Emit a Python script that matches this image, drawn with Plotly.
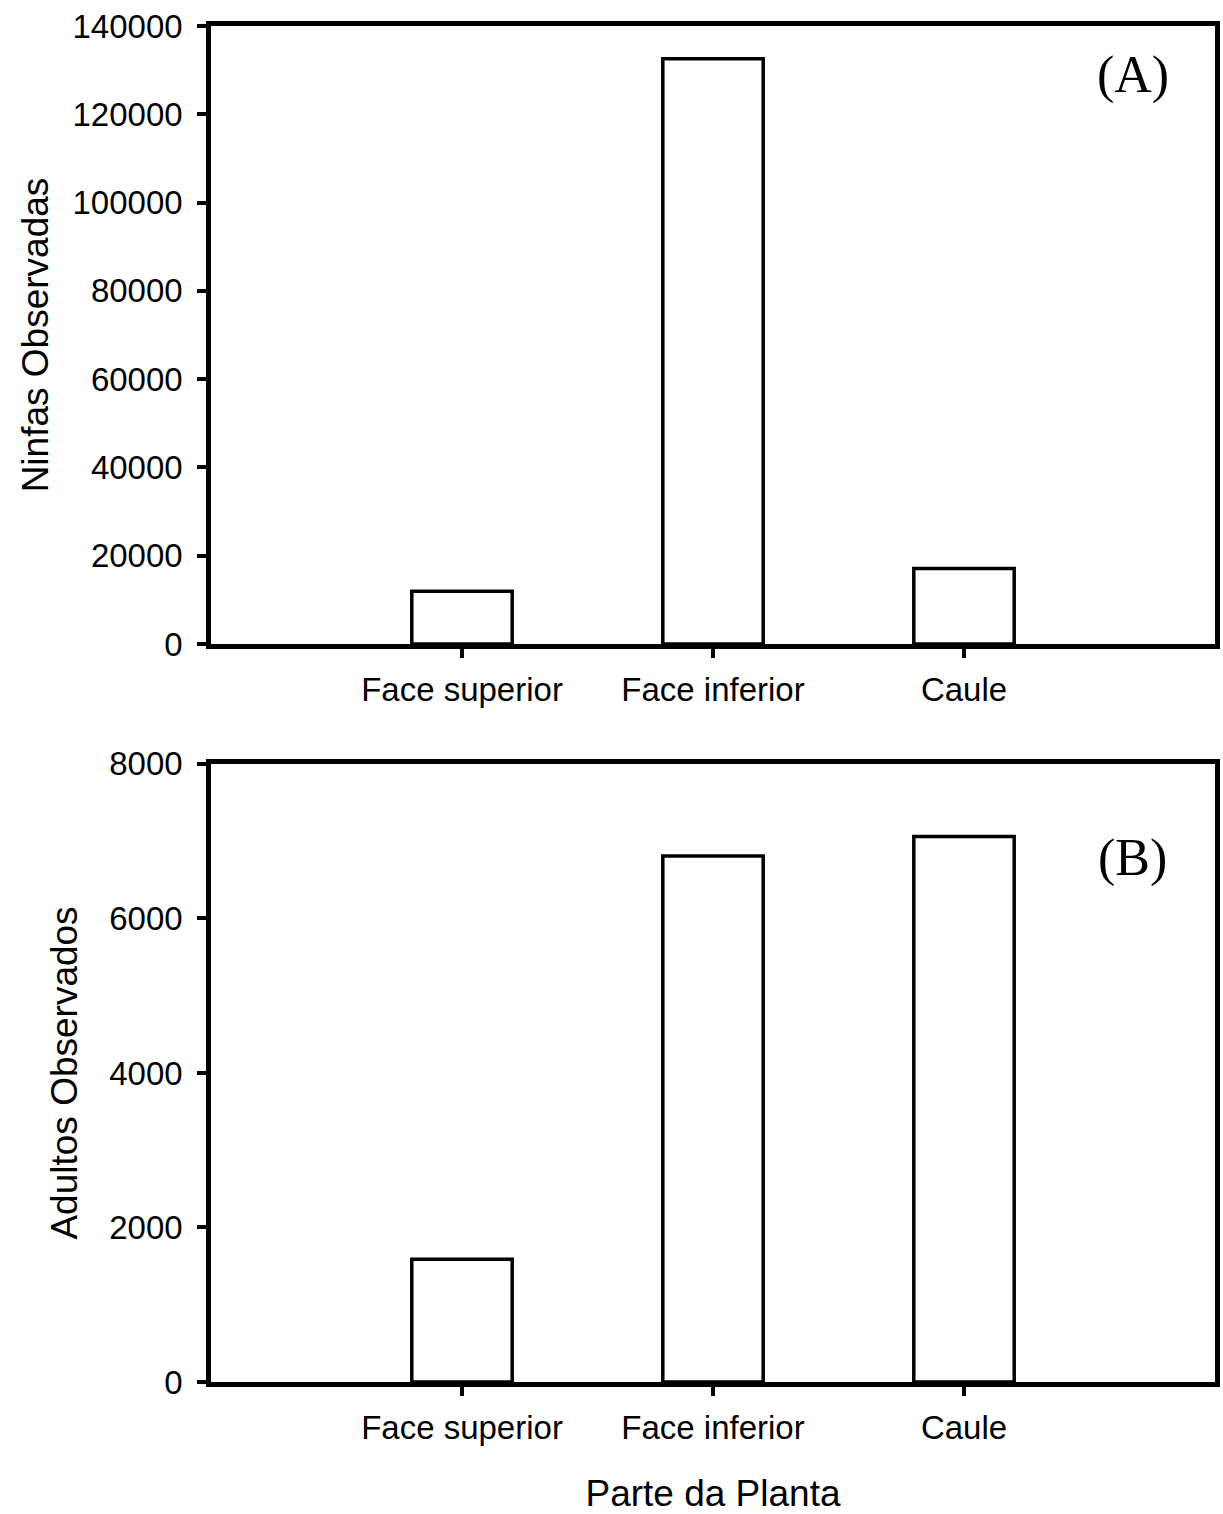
import plotly.graph_objects as go
from plotly.subplots import make_subplots

categories = ["Face superior", "Face inferior", "Caule"]
ninfas = [11950, 132600, 17100]
adultos = [1590, 6810, 7060]
y1_ticks = [0, 20000, 40000, 60000, 80000, 100000, 120000, 140000]
y2_ticks = [0, 2000, 4000, 6000, 8000]

fig = make_subplots(rows=2, cols=1, vertical_spacing=0.085)

bar_style = dict(marker=dict(color="white", line=dict(color="black", width=3.5)), width=0.4, showlegend=False)
fig.add_trace(go.Bar(x=[0, 1, 2], y=ninfas, **bar_style), row=1, col=1)
fig.add_trace(go.Bar(x=[0, 1, 2], y=adultos, **bar_style), row=2, col=1)

fam = "Liberation Sans, Arial, sans-serif"
font = dict(family=fam, size=33, color="black")
title_font = dict(family=fam, size=37, color="black")
axis_common = dict(showline=True, linecolor="black", linewidth=4.5, mirror=True,
                   ticks="outside", tickwidth=3.5, ticklen=9, tickcolor="black",
                   showgrid=False, zeroline=False, tickfont=font, automargin=False)

for r in (1, 2):
    fig.update_xaxes(range=[-1, 3], tickmode="array", tickvals=[0, 1, 2], ticktext=categories,
                     ticklabelstandoff=4, row=r, col=1, **axis_common)

fig.update_yaxes(range=[0, 140000], tickmode="array", tickvals=y1_ticks,
                 ticktext=[str(v) for v in y1_ticks], ticklabelstandoff=8,
                 title=dict(text="Ninfas Observadas", font=title_font, standoff=14),
                 row=1, col=1, **axis_common)
fig.update_yaxes(range=[0, 8000], tickmode="array", tickvals=y2_ticks,
                 ticktext=[str(v) for v in y2_ticks], ticklabelstandoff=8,
                 title=dict(text="Adultos Observados", font=title_font, standoff=22),
                 row=2, col=1, **axis_common)
fig.update_xaxes(title=dict(text="Parte da Planta", font=title_font, standoff=36), row=2, col=1)

fig.update_layout(
    width=1223, height=1514,
    margin=dict(l=211, r=8, t=26, b=132, autoexpand=False),
    plot_bgcolor="white", paper_bgcolor="white",
    font=font,
    yaxis=dict(domain=[0.5442, 1.0]),
    yaxis2=dict(domain=[0.0, 0.4558]),
    annotations=[
        dict(text="(A)", x=0.9183, y=0.9639, xref="paper", yref="paper", showarrow=False,
             xanchor="center", yanchor="middle",
             font=dict(family="Liberation Serif, Times New Roman, serif", size=52, color="black")),
        dict(text="(B)", x=0.9183, y=0.3864, xref="paper", yref="paper", showarrow=False,
             xanchor="center", yanchor="middle",
             font=dict(family="Liberation Serif, Times New Roman, serif", size=52, color="black")),
    ],
)

fig.write_html("out.html", config={"displayModeBar": False},
               post_script="document.body.style.margin='0';document.body.style.overflow='hidden';")
